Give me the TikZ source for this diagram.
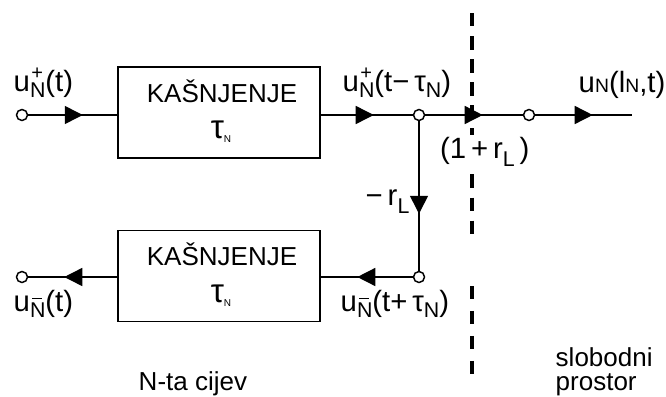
\documentclass[tikz,border=0pt]{standalone}
\usepackage{fontspec}
\setmainfont{Liberation Sans}
\usetikzlibrary{arrows.meta,decorations.markings}
\newcommand\lbsub[1]{\raisebox{-4.5pt}{\fontsize{16}{16}\selectfont #1}}
\newcommand\lbsubL[1]{\raisebox{-6pt}{\fontsize{16}{16}\selectfont #1}}
\newcommand\lbplus{\makebox[0pt][l]{\hspace{1pt}\raisebox{8.5pt}{\fontsize{15}{15}\selectfont +}}}
\newcommand\lbminus{\makebox[0pt][l]{\hspace{1.8pt}\rule[9pt]{7.5pt}{1.1pt}}}
\newcommand\tinyN{\raisebox{-3pt}{\fontsize{7.5}{7.5}\selectfont N}}
\newcommand\smN{{\fontsize{14.5}{14.5}\selectfont N}}
\begin{document}
\begin{tikzpicture}[x=0.75pt,y=-0.75pt,
  line width=1.1pt,
  box/.style={draw,rectangle,minimum width=151.5pt,minimum height=68.5pt,inner sep=0pt},
  port/.style={circle,draw,fill=white,inner sep=0pt,minimum size=8.25pt},
  lbl/.style={inner sep=0pt,font=\fontsize{22}{25}\selectfont},
  txt/.style={inner sep=0pt,font=\fontsize{19.5}{22}\selectfont},
  arr/.style={postaction={decorate},decoration={markings,mark=at position #1 with {\arrow{Triangle[length=13.5pt,width=13.5pt]}}}},
  dashline/.style={line width=3pt}
]
\useasboundingbox (0,0) rectangle (666,396);
% dashed boundary
\coordinate (d1s) at (472,13);
\coordinate (d1e) at (472,234.4);
\coordinate (d2s) at (472,286);
\coordinate (d2e) at (472,375);
\draw[dashline,dash pattern=on 10.1pt off 7.2pt] (d1s) -- (d1e);
\draw[dashline,dash pattern=on 10.1pt off 8.6pt] (d2s) -- (d2e);
% boxes
\node[box] (b1) at (219,112.5) {};
\node[box] (b2) at (219,276) {};
\node[txt,anchor=base] (k1) at (222,102) {KAŠNJENJE};
\node[txt,anchor=base] (t1) at (221,138) {{\fontsize{25}{25}\selectfont τ}\tinyN};
\node[txt,anchor=base] (k2) at (222,265) {KAŠNJENJE};
\node[txt,anchor=base] (t2) at (221,302) {{\fontsize{25}{25}\selectfont τ}\tinyN};
% ports
\node[port] (in1) at (22,115) {};
\node[port] (j1) at (419,115) {};
\node[port] (c2) at (529,115) {};
\node[port] (c3) at (419,277) {};
\node[port] (out1) at (22,277) {};
\coordinate (end) at (632,115);
% connectors
\draw[arr=40.9pt] (in1) -- (in1 -| b1.west);
\draw[arr=39.75pt] (b1.east |- j1) -- (j1);
\draw[arr=43.1pt] (j1) -- (c2);
\draw[arr=43.1pt] (c2) -- (end);
\draw[arr=69.4pt] (j1) -- (c3);
\draw[arr=41.6pt] (c3) -- (c3 -| b2.east);
\draw[arr=39.75pt] (b2.west |- c3) -- (out1);
% labels
\node[lbl,anchor=base west] (lin) at (13,91) {u\lbplus\lbsub{N}(t)};
\node[lbl,anchor=base west] (lmid) at (342,91) {u\lbplus\lbsub{N}(t−\,τ\lbsub{N})};
\node[lbl,anchor=base west] (lout) at (578,92) {u\smN(l\smN,t)};
\node[lbl,anchor=base west,fill=white,inner sep=1pt] (ltr) at (438,158) {(1\,+\,r\lbsubL{L}\,)};
\node[lbl,anchor=base west] (lref) at (365,205) {−\,r\lbsubL{L}};
\node[lbl,anchor=base west] (lback) at (340,311) {u\lbminus\lbsub{N}(t+\,τ\lbsub{N})};
\node[lbl,anchor=base west] (lret) at (13,311) {u\lbminus\lbsub{N}(t)};
\node[txt,anchor=base west] (cijev) at (138,390) {N-ta cijev};
\node[txt,anchor=base west] (slob) at (555,366) {slobodni};
\node[txt,anchor=base west] (prost) at (555,390) {prostor};
\end{tikzpicture}
\end{document}
